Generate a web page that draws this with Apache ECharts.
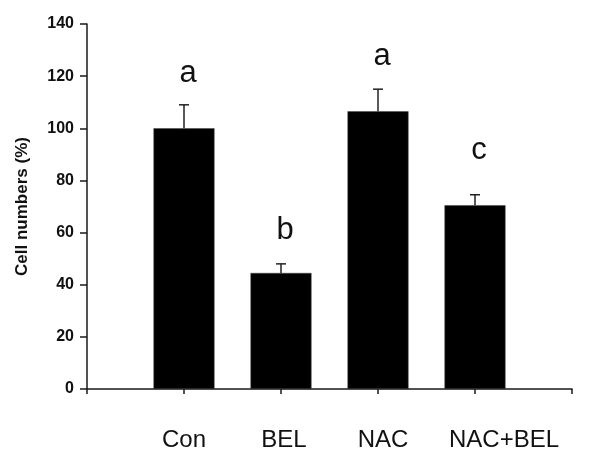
<!DOCTYPE html>
<html>
<head>
<meta charset="utf-8">
<script src="https://cdn.jsdelivr.net/npm/echarts@6/dist/echarts.min.js"></script>
<style>html,body{margin:0;padding:0;background:#fff;}#c{width:589px;height:453px;}</style>
</head>
<body>
<div id="c"></div>
<script>
var categories = ['Con', 'BEL', 'NAC', 'NAC+BEL'];
var positions = [1, 2, 3, 4];
var values = [100, 44.5, 106.5, 70.5];
var errors = [9, 3.5, 8.5, 4];
var letters = ['a', 'b', 'a', 'c'];
var letterLevels = [115, 55, 121.5, 85.5];
var yTicks = [0, 20, 40, 60, 80, 100, 120, 140];

var chart = echarts.init(document.getElementById('c'), null, {renderer: 'canvas'});
var FONT = '"Liberation Sans", Arial, sans-serif';

var barData = positions.map(function (p, i) { return [p, values[i]]; });
var errData = positions.map(function (p, i) { return [p, values[i], values[i] + errors[i]]; });
var letterData = positions.map(function (p, i) { return [p, letterLevels[i], letters[i]]; });

var labelShift = {Con: 0, BEL: 6, NAC: 10, 'NAC+BEL': 58};

chart.setOption({
  animation: false,
  backgroundColor: '#ffffff',
  grid: {left: 87, right: 17, top: 24, bottom: 64, containLabel: false},
  xAxis: {
    type: 'value',
    min: 0, max: 5, interval: 1,
    axisLine: {show: true, lineStyle: {color: '#1a1a1a', width: 1.5}},
    axisTick: {show: true, length: 5, lineStyle: {color: '#1a1a1a', width: 1.5}},
    splitLine: {show: false},
    axisLabel: {
      margin: 39,
      fontFamily: FONT,
      fontSize: 24,
      color: '#111',
      formatter: function (v) {
        var idx = positions.indexOf(v);
        if (idx < 0) return '';
        var name = categories[idx];
        return '{s' + idx + '|' + name + '}';
      },
      rich: {
        s0: {fontFamily: FONT, fontSize: 24, color: '#111', padding: [0, 0, 0, labelShift['Con']]},
        s1: {fontFamily: FONT, fontSize: 24, color: '#111', padding: [0, 0, 0, labelShift['BEL']]},
        s2: {fontFamily: FONT, fontSize: 24, color: '#111', padding: [0, 0, 0, labelShift['NAC']]},
        s3: {fontFamily: FONT, fontSize: 24, color: '#111', padding: [0, 0, 0, labelShift['NAC+BEL']]}
      }
    }
  },
  yAxis: {
    type: 'value',
    min: yTicks[0], max: yTicks[yTicks.length - 1], interval: 20,
    name: 'Cell numbers (%)',
    nameLocation: 'middle',
    nameGap: 56,
    nameRotate: 90,
    nameTextStyle: {fontFamily: FONT, fontSize: 17, fontWeight: 'bold', color: '#111'},
    axisLine: {show: true, lineStyle: {color: '#1a1a1a', width: 1.5}},
    axisTick: {show: true, inside: false, length: 7, lineStyle: {color: '#1a1a1a', width: 1.5}},
    splitLine: {show: false},
    axisLabel: {margin: 13, fontFamily: FONT, fontSize: 16, fontWeight: 'bold', color: '#111'}
  },
  series: [
    {
      type: 'bar',
      data: barData,
      barWidth: 61,
      itemStyle: {color: '#000000', borderColor: '#444', borderWidth: 0.5},
      z: 2
    },
    {
      type: 'custom',
      data: errData,
      z: 3,
      renderItem: function (params, api) {
        var x = api.value(0);
        var top = api.coord([x, api.value(2)]);
        var base = api.coord([x, api.value(1)]);
        var cap = 5;
        return {
          type: 'group',
          children: [
            {type: 'line', shape: {x1: top[0], y1: top[1], x2: base[0], y2: base[1]}, style: {stroke: '#222', lineWidth: 1.5}},
            {type: 'line', shape: {x1: top[0] - cap, y1: top[1], x2: top[0] + cap, y2: top[1]}, style: {stroke: '#222', lineWidth: 1.5}}
          ]
        };
      }
    },
    {
      type: 'custom',
      data: letterData,
      z: 4,
      renderItem: function (params, api) {
        var p = api.coord([api.value(0), api.value(1)]);
        return {
          type: 'text',
          x: p[0] + 4,
          y: p[1],
          style: {
            text: letterData[params.dataIndex][2],
            fontFamily: FONT,
            fontSize: 31,
            fill: '#111',
            align: 'center',
            verticalAlign: 'bottom'
          }
        };
      }
    }
  ]
});
</script>
</body>
</html>
